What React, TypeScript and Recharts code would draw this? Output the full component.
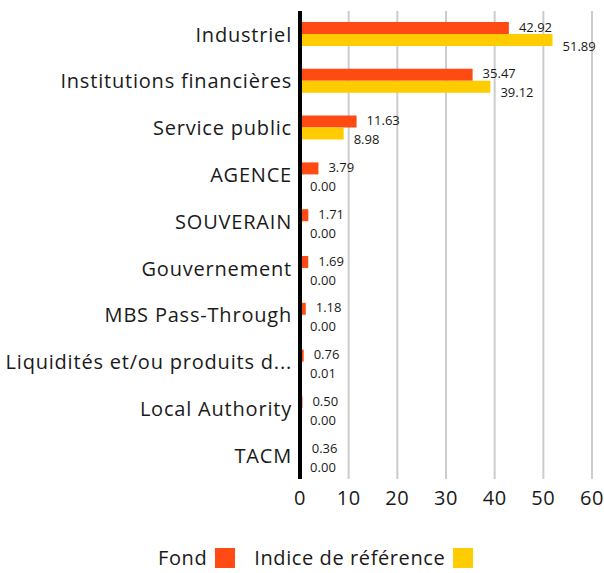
import { BarChart, Bar, XAxis, YAxis, CartesianGrid, LabelList } from "recharts";

const FOND = "#FF4A14";
const INDICE = "#FFCC00";
const GRID = "#cccccc";
const TEXT = "#1a1a1a";
const FONT = "'Open Sans', sans-serif";

const categories = [
  "Industriel",
  "Institutions financières",
  "Service public",
  "AGENCE",
  "SOUVERAIN",
  "Gouvernement",
  "MBS Pass-Through",
  "Liquidités et/ou produits dérivés",
  "Local Authority",
  "TACM",
];
const fondValues = [42.92, 35.47, 11.63, 3.79, 1.71, 1.69, 1.18, 0.76, 0.5, 0.36];
const indiceValues = [51.89, 39.12, 8.98, 0.0, 0.0, 0.0, 0.0, 0.01, 0.0, 0.0];
const xTicks = [0, 10, 20, 30, 40, 50, 60];

const data = categories.map((name, i) => ({
  name,
  fond: fondValues[i],
  indice: indiceValues[i],
}));

// long category names get cut like the original ("...d...")
function shorten(label: string): string {
  return label.length > 30 ? label.slice(0, 27) + "..." : label;
}

const fmt = (v: any) => Number(v).toFixed(2);

const xTickText = { fill: TEXT, fontSize: 20, fontFamily: FONT, letterSpacing: 0.6 };
const yTickText = { fill: TEXT, fontSize: 20, fontFamily: FONT, letterSpacing: 0.8 };
const valueText = { fill: TEXT, fontSize: 13, fontFamily: FONT };

function LegendItem({ label, color }: { label: string; color: string }) {
  return (
    <div style={{ display: "flex", alignItems: "center", marginRight: 19 }}>
      <span style={{ fontSize: 20, letterSpacing: 0.6, color: TEXT, fontFamily: FONT, lineHeight: "20px" }}>
        {label}
      </span>
      <span style={{ width: 20, height: 20, background: color, marginLeft: 8, display: "inline-block" }} />
    </div>
  );
}

export default function App() {
  return (
    <div style={{ position: "absolute", left: 0, top: 0, width: 604, height: 573, fontFamily: FONT }}>
      <BarChart
        width={604}
        height={520}
        data={data}
        layout="vertical"
        margin={{ top: 11, right: 12, bottom: 0, left: 0 }}
        barGap={0}
        barSize={12}
      >
        <CartesianGrid horizontal={false} stroke={GRID} strokeWidth={2} />
        <XAxis
          type="number"
          domain={[0, 60]}
          ticks={xTicks}
          axisLine={false}
          tickLine={false}
          height={41}
          tickMargin={6}
          tick={xTickText}
        />
        <YAxis
          type="category"
          dataKey="name"
          width={300}
          axisLine={{ stroke: "#000", strokeWidth: 4 }}
          tickLine={false}
          tickFormatter={shorten}
          tick={yTickText}
        />
        <Bar dataKey="fond" fill={FOND} minPointSize={0.1} isAnimationActive={false}>
          <LabelList dataKey="fond" position="right" offset={10} formatter={fmt} style={valueText} dy={-1} />
        </Bar>
        <Bar dataKey="indice" fill={INDICE} minPointSize={0.1} isAnimationActive={false}>
          <LabelList dataKey="indice" position="right" offset={10} formatter={fmt} style={valueText} dy={6} />
        </Bar>
      </BarChart>
      <div style={{ position: "absolute", top: 548, left: 158, display: "flex" }}>
        <LegendItem label="Fond" color={FOND} />
        <LegendItem label="Indice de référence" color={INDICE} />
      </div>
    </div>
  );
}
